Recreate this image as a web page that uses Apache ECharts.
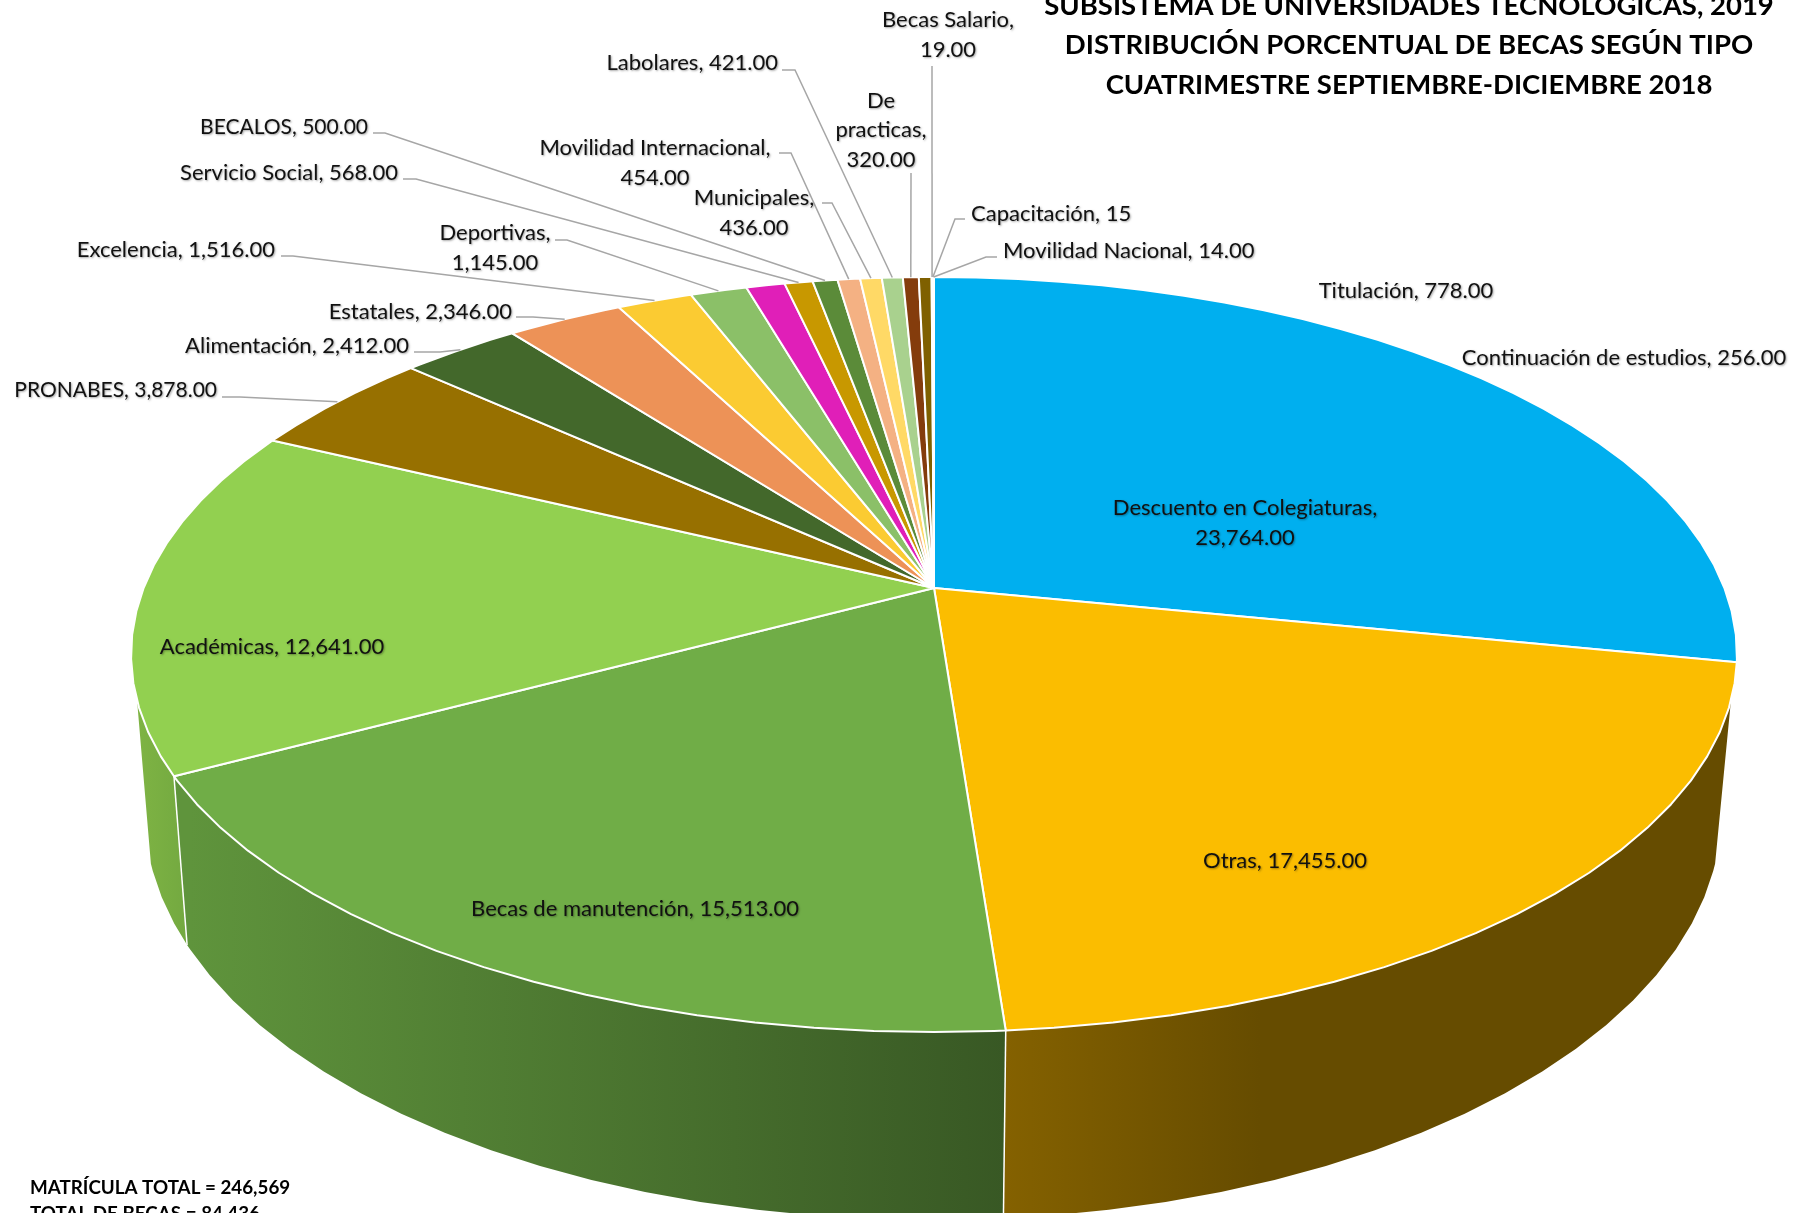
<!DOCTYPE html>
<html><head><meta charset="utf-8">
<style>html,body{margin:0;padding:0;background:#fff}#c{width:1808px;height:1213px}</style>
<script src="https://cdn.jsdelivr.net/npm/echarts@6/dist/echarts.min.js"></script>
</head><body><div id="c"></div>
<script>
// ---- data ----
const titleLines = ['SUBSISTEMA DE UNIVERSIDADES TECNOLÓGICAS, 2019','DISTRIBUCIÓN PORCENTUAL DE BECAS SEGÚN TIPO','CUATRIMESTRE SEPTIEMBRE-DICIEMBRE 2018'];
const noteLines = ['MATRÍCULA TOTAL = 246,569','TOTAL DE BECAS = 84,436'];
const categories = ['Descuento en Colegiaturas','Otras','Becas de manutención','Académicas','PRONABES','Alimentación','Estatales','Excelencia','Deportivas','Titulación','Servicio Social','BECALOS','Movilidad Internacional','Municipales','Labolares','De practicas','Continuación de estudios','Becas Salario','Capacitación','Movilidad Nacional'];
const values = [23764,17455,15513,12641,3878,2412,2346,1516,1145,778,568,500,454,436,421,320,256,19,15,14];
const labelTexts = ['Descuento en Colegiaturas,\n23,764.00','Otras, 17,455.00','Becas de manutención, 15,513.00','Académicas, 12,641.00','PRONABES, 3,878.00','Alimentación, 2,412.00','Estatales, 2,346.00','Excelencia, 1,516.00','Deportivas,\n1,145.00','Titulación, 778.00','Servicio Social, 568.00','BECALOS, 500.00','Movilidad Internacional,\n454.00','Municipales,\n436.00','Labolares, 421.00','De\npracticas,\n320.00','Continuación de estudios, 256.00','Becas Salario,\n19.00','Capacitación, 15','Movilidad Nacional, 14.00'];
const colors = ['#00AFEF','#FBBD00','#70AD47','#92D050','#977000','#43682B','#ED9257','#FBCB32','#8BC068','#E01FB8','#C89800','#5B8B39','#F4B183','#FFD966','#A9D18E','#843C0C','#7F6000','#ED7D31','#A5A5A5','#FFC000'];
// wall gradient per slice: [colour at left, colour at right, gradient x range]
const wallShades = {1:['#846100','#664C00',1006,1260],2:['#5F943C','#385824',190,1006],3:['#80B544','#72A840',130,192]};
// ---- layout ----
const FONT = 'Lato, "Noto Sans", sans-serif';
const LABEL_SIZE = 22;
const labelLayout = [
 {x:1245,y:523,a:'center'},{x:1285,y:861,a:'center'},{x:635,y:909,a:'center'},{x:272,y:647,a:'center'},
 {x:217,y:390,a:'right',s:21,e:[[222,397],[240,397]]},
 {x:409,y:346,a:'right',e:[[414,352],[440,352]]},
 {x:512,y:312,a:'right',e:[[516,317],[533,317]]},
 {x:275,y:250,a:'right',e:[[281,256],[293,256]]},
 {x:495,y:248,a:'center',e:[[555,240],[567,240]]},
 {x:1406,y:291,a:'center'},
 {x:398,y:173,a:'right',e:[[403,179],[416,179]]},
 {x:368,y:127,a:'right',s:21,e:[[373,133],[385,133]]},
 {x:655,y:163,a:'center',e:[[779,153],[791,153]]},
 {x:754,y:213,a:'center',e:[[822,203],[832,203]]},
 {x:778,y:63,a:'right',e:[[782,70],[795,70]]},
 {x:881,y:130,a:'center',e:[[911,173]]},
 {x:1624,y:358,a:'center'},
 {x:948,y:35,a:'center',e:[[932,66]]},
 {x:971,y:214,a:'left',e:[[965,219],[955,219]]},
 {x:1003,y:251,a:'left',e:[[997,257],[986,257]]}
];
// perspective projection of the top disc and of the lower rim
const K=0.1762, STEP=3.6, WALL_FROM=107, WALL_TO=253;
const TOP={cx:934,cy:588,rx:790.4,ry:365.8}, LOW={cx:933,cy:742.5,rx:775.7,ry:393.4};
const total = values.reduce((a,b)=>a+b,0);
const cum = []; values.reduce((s,v,i)=>(cum[i]=s, s+v),0);
const ang = i => (i>=values.length?total:cum[i])/total*360;
function onDisc(d,deg){const t=deg*Math.PI/180,x=Math.sin(t),y=-Math.cos(t),w=1-K*y;return [d.cx+d.rx*x/w,d.cy+d.ry*y/w];}
function rimAngles(a0,a1){const out=[a0];let q=Math.floor(a0/STEP+1e-6)*STEP+STEP;while(q<a1-1e-6){out.push(q);q+=STEP;}out.push(a1);return out;}

function renderWall(params,api){
  const i=api.value(0),children=[];
  const a0=Math.max(ang(i),WALL_FROM),a1=Math.min(ang(i+1),WALL_TO);
  if(a1<=a0) return {type:'group',children};
  const as=rimAngles(a0,a1),sh=wallShades[i];
  const pts=as.map(a=>onDisc(TOP,a)).concat(as.slice().reverse().map(a=>onDisc(LOW,a)));
  children.push({type:'polygon',shape:{points:pts},silent:true,style:{
    fill: sh?{type:'linear',x:sh[2],y:0,x2:sh[3],y2:0,global:true,colorStops:[{offset:0,color:sh[0]},{offset:1,color:sh[1]}]}:colors[i]}});
  if(ang(i)>WALL_FROM){const p=onDisc(TOP,ang(i)),q=onDisc(LOW,ang(i));
    children.push({type:'line',z2:5,silent:true,shape:{x1:p[0],y1:p[1],x2:q[0],y2:q[1]},style:{stroke:'#fff',lineWidth:1.5}});}
  return {type:'group',children};
}
function renderTop(params,api){
  const i=api.value(0);
  const pts=[[TOP.cx,TOP.cy]].concat(rimAngles(ang(i),ang(i+1)).map(a=>onDisc(TOP,a)));
  return {type:'polygon',silent:true,shape:{points:pts},style:{fill:colors[i],stroke:'#fff',lineWidth:2,lineJoin:'round'}};
}
function renderLabel(params,api){
  const i=api.value(0),L=labelLayout[i],children=[];
  if(L.e){const pts=L.e.concat([onDisc(TOP,(ang(i)+ang(i+1))/2)]);
    children.push({type:'polyline',silent:true,shape:{points:pts},style:{fill:'none',stroke:'#A6A6A6',lineWidth:1.5}});}
  children.push({type:'text',silent:true,style:{text:labelTexts[i],x:L.x,y:L.y,align:L.a,verticalAlign:'middle',font:(L.s||LABEL_SIZE)+'px '+FONT,lineHeight:29.5,fill:'#111',
    textShadowColor:'rgba(0,0,0,0.35)',textShadowBlur:2,textShadowOffsetX:1,textShadowOffsetY:1}});
  return {type:'group',children};
}
const seriesData = values.map((v,i)=>({name:categories[i],value:[i,v]}));
const chart = echarts.init(document.getElementById('c'),null,{renderer:'canvas'});
chart.setOption({
  animation:false,
  backgroundColor:'#fff',
  title:[
    {text:titleLines.join('\n'),left:1409,top:-14,padding:0,textAlign:'center',textStyle:{fontFamily:FONT,fontWeight:'bold',fontSize:27.5,lineHeight:39.5,color:'#000'}},
    {text:noteLines.join('\n'),left:30,top:1175,padding:0,textStyle:{fontFamily:FONT,fontWeight:'bold',fontSize:18.8,lineHeight:26,color:'#000'}}
  ],
  series:[
    {type:'custom',coordinateSystem:'none',renderItem:renderWall,data:seriesData,z:1,clip:false},
    {type:'custom',coordinateSystem:'none',renderItem:renderTop,data:seriesData,z:2,clip:false},
    {type:'custom',coordinateSystem:'none',renderItem:renderLabel,data:seriesData,z:3,clip:false}
  ]
});
</script></body></html>
